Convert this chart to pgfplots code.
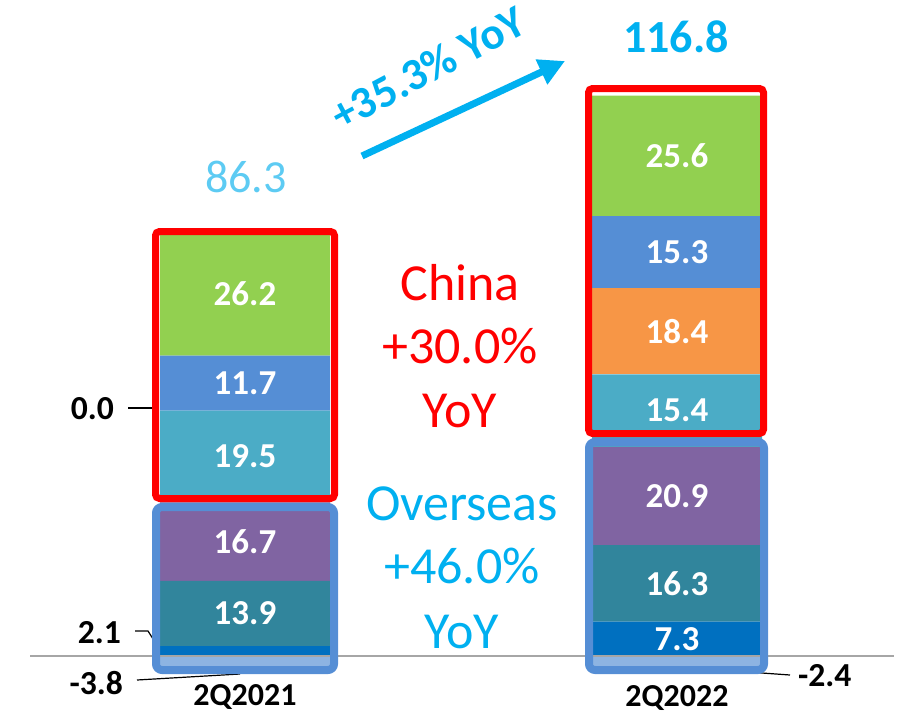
\documentclass[border=0pt]{standalone}
\usepackage{fontspec}
\setmainfont{Carlito}
\usepackage{pgfplots}
\pgfplotsset{compat=1.18}
\usetikzlibrary{arrows.meta}
\definecolor{cgreen}{HTML}{92D050}
\definecolor{cblue}{HTML}{558ED5}
\definecolor{clteal}{HTML}{4BACC6}
\definecolor{corange}{HTML}{F79646}
\definecolor{cpurple}{HTML}{8064A2}
\definecolor{cteal}{HTML}{31859C}
\definecolor{cdblue}{HTML}{0070C0}
\definecolor{clblue}{HTML}{8DB4E2}
\definecolor{cyanT}{HTML}{00B0F0}
\definecolor{cyanL}{HTML}{5DCBF3}
\definecolor{boxblue}{HTML}{558ED5}
\newcommand\seglab{\fontsize{17.5}{20}\selectfont\bfseries}
\newcommand\sidelab{\fontsize{16.8}{20}\selectfont\bfseries}
\newcommand\bigtxt{\fontsize{26}{31.5}\selectfont}
\begin{document}
\begin{tikzpicture}
\pgfplotsset{base/.style={width=450pt,height=356pt,scale only axis,hide axis,xmin=0,xmax=900,clip=false}}
% negative parts
\begin{axis}[base, ymin=-11.915, ymax=139.574, ybar, bar width=170, bar shift=0pt]
\addplot[fill=clblue, draw=none] coordinates {(245,-3.8) (677,-2.4)};
\end{axis}
% positive stacked parts
\begin{axis}[base, ymin=-11.915, ymax=139.574, ybar stacked, bar width=170]
\addplot[fill=cdblue,draw=none] coordinates {(245,2.1) (677,7.3)};
\addplot[fill=cteal,draw=none] coordinates {(245,13.9) (677,16.3)};
\addplot[fill=cpurple,draw=none] coordinates {(245,16.7) (677,20.9)};
\addplot[fill=clteal,draw=none] coordinates {(245,19.5) (677,15.4)};
\addplot[fill=corange,draw=none] coordinates {(245,0.0) (677,18.4)};
\addplot[fill=cblue,draw=none] coordinates {(245,11.7) (677,15.3)};
\addplot[fill=cgreen,draw=none] coordinates {(245,26.2) (677,25.6)};
\end{axis}
% segment labels (value coordinates)
\begin{axis}[base, ymin=-11.915, ymax=139.574]
\node[font=\seglab, text=white] at (axis cs:245,9.05) {13.9};
\node[font=\seglab, text=white] at (axis cs:245,24.35) {16.7};
\node[font=\seglab, text=white] at (axis cs:245,42.45) {19.5};
\node[font=\seglab, text=white] at (axis cs:245,58.05) {11.7};
\node[font=\seglab, text=white] at (axis cs:245,77.0) {26.2};
\node[font=\seglab, text=white] at (axis cs:677,3.65) {7.3};
\node[font=\seglab, text=white] at (axis cs:677,15.45) {16.3};
\node[font=\seglab, text=white] at (axis cs:677,34.05) {20.9};
\node[font=\seglab, text=white] at (axis cs:677,52.2) {15.4};
\node[font=\seglab, text=white] at (axis cs:677,69.1) {18.4};
\node[font=\seglab, text=white] at (axis cs:677,85.95) {15.3};
\node[font=\seglab, text=white] at (axis cs:677,106.4) {25.6};
\end{axis}
% overlay in pixel coordinates
\begin{axis}[base, ymin=0, ymax=712, y dir=reverse]
% zero line
\draw[color=black!35, line width=1pt] (axis cs:30,655.5) -- (axis cs:894,655.5);
% leader lines
\draw[black, line width=0.6pt] (axis cs:128,408) -- (axis cs:152,408);
\draw[black, line width=0.6pt] (axis cs:135,631) -- (axis cs:148,631) -- (axis cs:155,642);
\draw[black, line width=0.6pt] (axis cs:137,680) -- (axis cs:240,674);
\draw[black, line width=0.6pt] (axis cs:678,667) -- (axis cs:790,675);
% boxes
\draw[red, line width=3.5pt, rounded corners=2pt] (axis cs:155.5,231.5) rectangle (axis cs:334.5,498.5);
\draw[boxblue, line width=4pt, rounded corners=3pt] (axis cs:156,507) rectangle (axis cs:334,670);
\draw[red, line width=3.5pt, rounded corners=2pt] (axis cs:588.5,88.5) rectangle (axis cs:763.5,433.5);
\draw[boxblue, line width=4pt, rounded corners=3pt] (axis cs:589,442) rectangle (axis cs:764,670);
% side labels
\node[font=\sidelab, anchor=east] at (axis cs:121,409) {0.0};
\node[font=\sidelab, anchor=east] at (axis cs:128,633) {2.1};
\node[font=\sidelab, anchor=east] at (axis cs:130,683) {-3.8};
\node[font=\sidelab, anchor=west] at (axis cs:791,676) {-2.4};
% category labels
\node[font=\fontsize{16}{18}\selectfont\bfseries, anchor=base] at (axis cs:245,705) {2Q2021};
\node[font=\fontsize{16}{18}\selectfont\bfseries, anchor=base] at (axis cs:677,706) {2Q2022};
% totals
\node[font=\fontsize{23}{27}\selectfont, text=cyanL, anchor=base] at (axis cs:246,192) {86.3};
\node[font=\fontsize{23}{27}\selectfont\bfseries, text=cyanT, anchor=base] at (axis cs:676,52) {116.8};
% growth arrow
\draw[cyanT, line width=3.5pt, -{Triangle[length=13pt,width=13pt]}] (axis cs:362,156) -- (axis cs:565,61);
\node[font=\fontsize{22.5}{26}\selectfont\bfseries, text=cyanT, rotate=28] at (axis cs:428,68) {+35.3\% YoY};
% region texts
\node[font=\bigtxt, text=red, anchor=base] at (axis cs:460,300) {China};
\node[font=\bigtxt, text=red, anchor=base] at (axis cs:460,363) {+30.0\%};
\node[font=\bigtxt, text=red, anchor=base] at (axis cs:460,427) {YoY};
\node[font=\bigtxt, text=cyanT, anchor=base] at (axis cs:462,520) {Overseas};
\node[font=\bigtxt, text=cyanT, anchor=base] at (axis cs:462,583) {+46.0\%};
\node[font=\bigtxt, text=cyanT, anchor=base] at (axis cs:462,648) {YoY};
\end{axis}
\pgfresetboundingbox
\path (current axis.south west) rectangle (current axis.north east);
\end{tikzpicture}
\end{document}
